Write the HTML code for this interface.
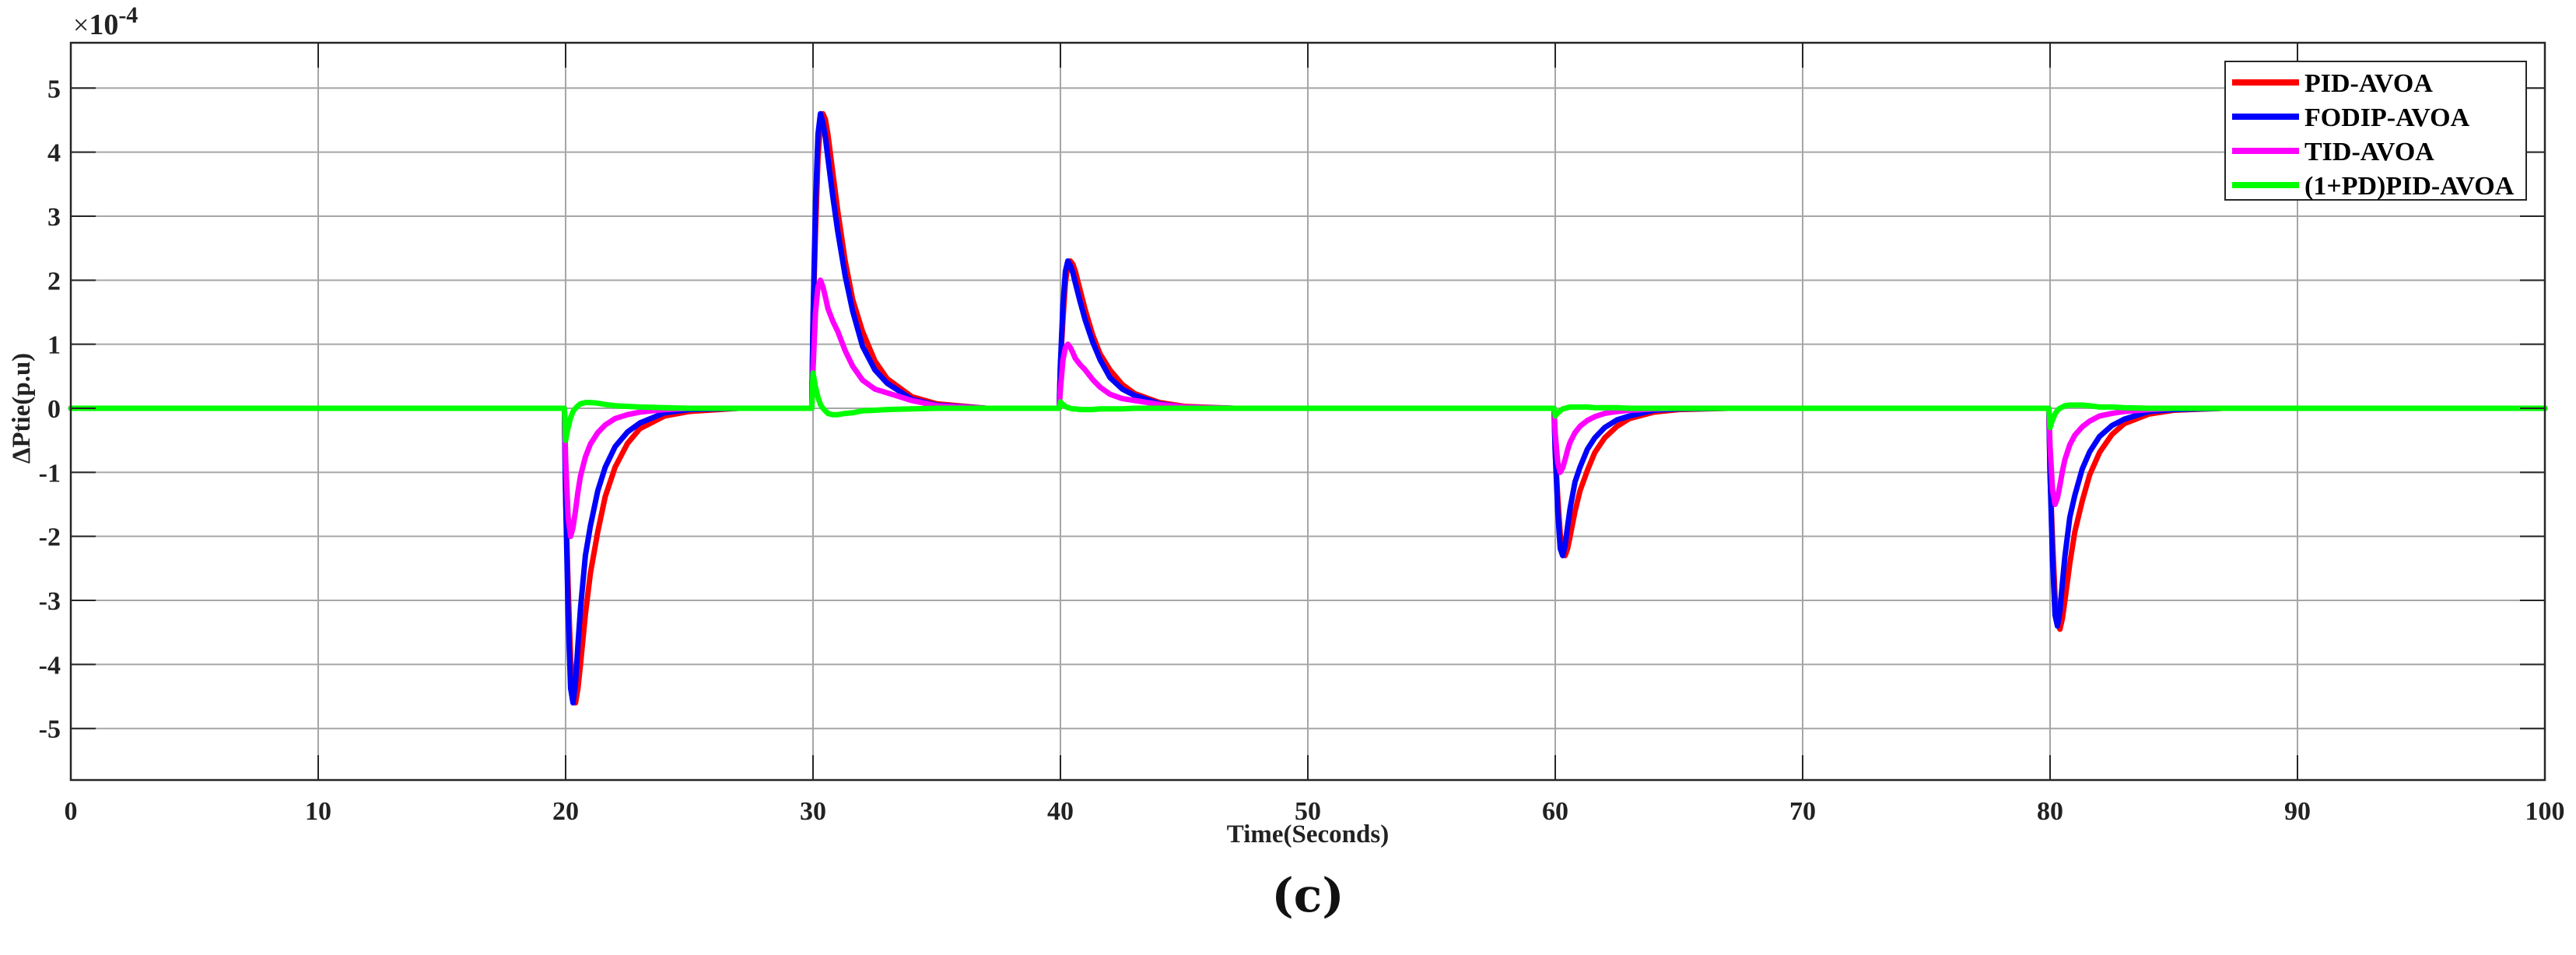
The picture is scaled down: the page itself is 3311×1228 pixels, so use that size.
<!DOCTYPE html>
<html><head><meta charset="utf-8"><style>
html,body{margin:0;padding:0;background:#fff;}
svg{display:block;font-family:"Liberation Serif",serif;}
</style></head><body>
<svg id="chart" width="3311" height="1228" viewBox="0 0 3311 1228" xmlns="http://www.w3.org/2000/svg">
<rect width="3311" height="1228" fill="#fff"/>
<g id="grid"></g>
<g id="series"></g>
<g id="axes"></g>
<text x="94" y="44" font-size="36" fill="#222">×<tspan font-weight="bold" font-size="38">10</tspan><tspan font-weight="bold" font-size="30" dy="-15">-4</tspan></text>
<text transform="translate(38,525) rotate(-90)" text-anchor="middle" font-size="33" font-weight="bold" fill="#222">ΔPtie(p.u)</text>
<text x="1681" y="1083" text-anchor="middle" font-size="33" font-weight="bold" fill="#222">Time(Seconds)</text>
<text x="1681" y="1172" text-anchor="middle" font-size="60" font-weight="bold" fill="#111" font-family="'DejaVu Serif',serif">(c)</text>
<g id="legend"></g>
</svg>
<script>
const xTicks=[0,10,20,30,40,50,60,70,80,90,100];
const yTicks=[-5,-4,-3,-2,-1,0,1,2,3,4,5];
const seriesNames=["PID-AVOA","FODIP-AVOA","TID-AVOA","(1+PD)PID-AVOA"];
const seriesColors=["#ff0000","#0000ff","#ff00ff","#00ff00"];
const time=[0,
19.95,20,20.1,20.2,20.3,20.4,20.5,20.6,20.8,21,21.3,21.6,22,22.5,23,24,25,27,
29.95,30,30.1,30.2,30.3,30.4,30.5,30.6,30.8,31,31.3,31.6,32,32.5,33,34,35,37,
39.95,40,40.1,40.2,40.3,40.4,40.5,40.6,40.8,41,41.3,41.6,42,42.5,43,44,45,47,
59.95,60,60.1,60.2,60.3,60.4,60.5,60.6,60.8,61,61.3,61.6,62,62.5,63,64,65,67,
79.95,80,80.1,80.2,80.3,80.4,80.5,80.6,80.8,81,81.3,81.6,82,82.5,83,84,85,87,
100];
const pidAvoa=[0,
0,-1.38,-2.76,-3.91,-4.46,-4.6,-4.37,-4,-3.22,-2.58,-1.93,-1.38,-0.92,-0.55,-0.32,-0.12,-0.05,0,
0,1.38,2.76,3.91,4.46,4.6,4.51,4.28,3.68,3.08,2.3,1.7,1.2,0.74,0.46,0.18,0.07,0,
0,0.69,1.38,1.96,2.23,2.3,2.25,2.14,1.84,1.54,1.15,0.85,0.6,0.37,0.23,0.09,0.03,0,
0,-0.69,-1.38,-1.96,-2.23,-2.3,-2.19,-2,-1.61,-1.29,-0.97,-0.69,-0.46,-0.28,-0.16,-0.06,-0.02,0,
0,-1.04,-2.07,-2.93,-3.35,-3.45,-3.28,-3,-2.42,-1.93,-1.45,-1.04,-0.69,-0.41,-0.24,-0.09,-0.03,0,
0];
const fodipAvoa=[0,
0,-1.38,-3.22,-4.37,-4.6,-4.28,-3.68,-3.13,-2.3,-1.84,-1.29,-0.92,-0.6,-0.37,-0.23,-0.07,-0.02,0,
0,1.38,3.22,4.28,4.6,4.46,4.23,3.91,3.31,2.76,2.07,1.52,0.97,0.6,0.39,0.14,0.05,0,
0,0.69,1.61,2.14,2.3,2.23,2.12,1.96,1.66,1.38,1.04,0.76,0.48,0.3,0.2,0.07,0.02,0,
0,-0.69,-1.61,-2.19,-2.3,-2.14,-1.84,-1.56,-1.15,-0.92,-0.64,-0.46,-0.3,-0.18,-0.12,-0.03,-0.01,0,
0,-1.02,-2.38,-3.23,-3.4,-3.16,-2.72,-2.31,-1.7,-1.36,-0.95,-0.68,-0.44,-0.27,-0.17,-0.05,-0.02,0,
0];
const tidAvoa=[0,
0,-0.8,-1.7,-2,-1.86,-1.6,-1.3,-1.06,-0.76,-0.56,-0.38,-0.26,-0.16,-0.1,-0.06,-0.02,0,0,
0,0.6,1.5,1.9,2,1.9,1.74,1.56,1.36,1.2,0.9,0.66,0.44,0.3,0.24,0.12,0.04,0,
0,0.3,0.75,0.95,1,0.95,0.87,0.78,0.68,0.6,0.45,0.33,0.22,0.15,0.12,0.06,0.02,0,
0,-0.4,-0.85,-1,-0.93,-0.8,-0.65,-0.53,-0.38,-0.28,-0.19,-0.13,-0.08,-0.05,-0.03,-0.01,0,0,
0,-0.6,-1.28,-1.5,-1.4,-1.2,-0.98,-0.8,-0.57,-0.42,-0.29,-0.2,-0.12,-0.08,-0.05,-0.02,0,0,
0];
const pdPidAvoa=[0,
0,-0.5,-0.3,-0.15,-0.05,0,0.04,0.07,0.09,0.09,0.08,0.06,0.04,0.03,0.02,0.01,0,0,
0,0.55,0.33,0.17,0.06,0,-0.04,-0.08,-0.1,-0.1,-0.08,-0.07,-0.04,-0.03,-0.02,-0.01,0,0,
0,0.1,0.06,0.03,0.01,0,-0.01,-0.01,-0.02,-0.02,-0.02,-0.01,-0.01,-0.01,0,0,0,0,
0,-0.12,-0.07,-0.04,-0.01,0,0.01,0.02,0.02,0.02,0.02,0.01,0.01,0.01,0,0,0,0,
0,-0.3,-0.18,-0.09,-0.03,0,0.02,0.04,0.05,0.05,0.05,0.04,0.02,0.02,0.01,0,0,0,
0];
const allSeries=[pidAvoa,fodipAvoa,tidAvoa,pdPidAvoa];

const NS="http://www.w3.org/2000/svg";
const L=91,R=3271,T=55,B=1003;
const xMin=0,xMax=100;
function sx(v){return L+(v-xMin)/(xMax-xMin)*(R-L);}
function sy(v){return 525-v*82.34;}
function mk(tag,attrs,parent){const e=document.createElementNS(NS,tag);for(const k in attrs)e.setAttribute(k,attrs[k]);parent.appendChild(e);return e;}
const grid=document.getElementById('grid'),axes=document.getElementById('axes'),sg=document.getElementById('series'),lg=document.getElementById('legend');
xTicks.forEach(t=>{
  const x=sx(t);
  if(t>xMin&&t<xMax){const g=mk('line',{x1:x,x2:x,y1:T,y2:B,stroke:'#a6a6a6','stroke-width':2},grid);
  
  }
  mk('line',{x1:x,x2:x,y1:B,y2:B-32,stroke:'#262626','stroke-width':2},axes);
  mk('line',{x1:x,x2:x,y1:T,y2:T+32,stroke:'#262626','stroke-width':2},axes);
  const lb=mk('text',{x:x,y:1054,'text-anchor':'middle','font-size':34,'font-weight':'bold',fill:'#222'},axes);
  lb.textContent=t;
  
  
});
yTicks.forEach(t=>{
  const y=sy(t);
  const g=mk('line',{x1:L,x2:R,y1:y,y2:y,stroke:'#a6a6a6','stroke-width':2},grid);
  
  
  mk('line',{x1:L,x2:L+32,y1:y,y2:y,stroke:'#262626','stroke-width':2},axes);
  mk('line',{x1:R,x2:R-32,y1:y,y2:y,stroke:'#262626','stroke-width':2},axes);
  const lb=mk('text',{x:78,y:y+12,'text-anchor':'end','font-size':34,'font-weight':'bold',fill:'#222'},axes);
  lb.textContent=t;
  
  
});
const frame=mk('rect',{x:L,y:T,width:R-L,height:B-T,fill:'none',stroke:'#262626','stroke-width':2.5},axes);


allSeries.forEach((vals,i)=>{
  const d=vals.map((v,j)=>(j?'L':'M')+sx(time[j]).toFixed(1)+','+sy(v).toFixed(1)).join(' ');
  const p=mk('path',{d:d,fill:'none',stroke:seriesColors[i],'stroke-width':7,'stroke-linejoin':'round','stroke-linecap':'round'},sg);
  
  
});
const lb=mk('rect',{x:2860,y:79,width:387,height:178,fill:'#fff',stroke:'#262626','stroke-width':2},lg);


seriesNames.forEach((n,i)=>{
  const y=106+i*44;
  const g=mk('g',{},lg);
  
  
  mk('line',{x1:2869,x2:2955,y1:y,y2:y,stroke:seriesColors[i],'stroke-width':8},g);
  const t=mk('text',{x:2962,y:y+12,'font-size':34,'font-weight':'bold',fill:'#000'},g);
  t.textContent=n;
});
</script>
</body></html>
